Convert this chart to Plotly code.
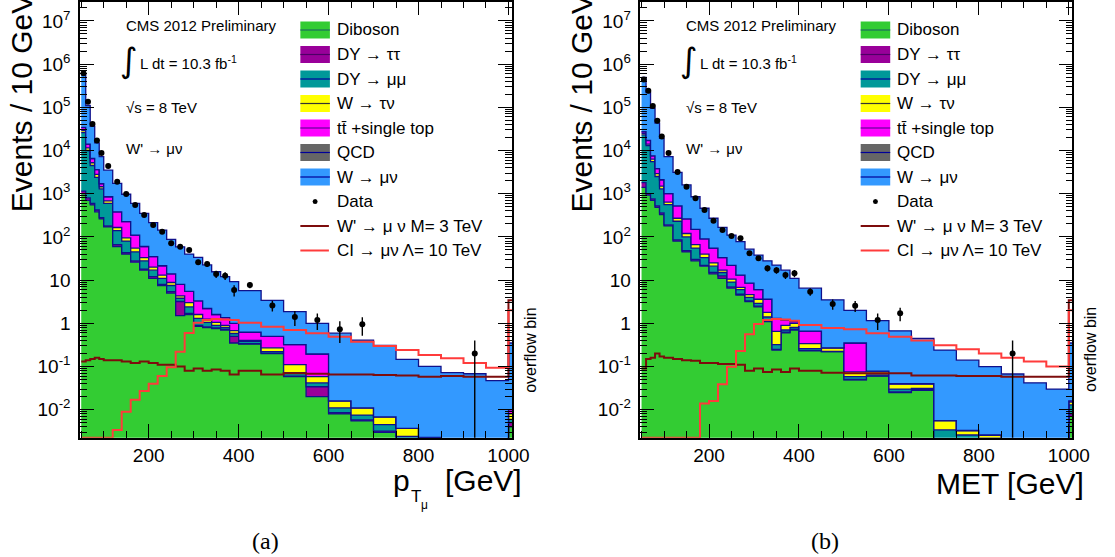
import numpy as np
import plotly.graph_objects as go

W, H = 1115, 557

# Bin edges in GeV (the last, narrow bin is the overflow bin)
edges = [50, 60, 70, 80, 90, 100, 120, 140, 160, 180, 200, 220, 240, 260, 280,
         300, 320, 340, 360, 380, 400, 450, 500, 550, 600, 650, 700, 750, 800,
         850, 900, 950, 1000, 1008]

# ---------------- muon pT distribution (events / 10 GeV) ----------------
pt_diboson = [1000, 700, 550, 380, 260, 170, 60, 40, 26, 17, 11, 7.5, 5.0, 1.5, 1.6, 0.85, 0.8,
              0.75, 0.7, 0.35, 0.33, 0.2, 0.058, 0.02, 0.008, 0.0055, 0.003, 0.0016, 0.0012,
              0, 0, 0, 0.004]
pt_dytautau = [150, 100, 50, 40, 20, 10, 6, 3, 2, 1, 1, 0.5, 0.4, 1.7, 0.1, 0.05, 0.03, 0.03,
               0.02, 0.15, 0.01, 0.005, 0.002, 0.014, 0.0005, 0.0003, 0.0002, 0.0001, 0.0001,
               0, 0, 0, 0.001]
pt_dymumu = [24850, 9200, 3900, 1980, 1020, 420, 74, 37, 17, 10, 5, 3, 2.1, 0.6, 0.7, 0.4, 0.22,
             0.12, 0.08, 0.08, 0.04, 0.015, 0.012, 0.008, 0.0025, 0.0017, 0.0013, 0.0007,
             0.0005, 0, 0, 0, 0.001]
pt_wtaunu = [3000, 1500, 700, 400, 150, 80, 25, 15, 10, 5, 3, 2, 1.3, 0.5, 0.6, 0.3, 0.2, 0.15,
             0.1, 0.1, 0.02, 0.05, 0.038, 0.016, 0.005, 0.0035, 0.0023, 0.0013, 0.0005,
             0, 0, 0, 0.002]
pt_ttbar = [5000, 2500, 1300, 800, 250, 170, 215, 130, 55, 27, 15, 8.5, 5.2, 3.7, 2.5, 1.7, 0.95,
            0.55, 0.45, 0.32, 0.22, 0.23, 0.21, 0.137, 0, 0, 0, 0, 0, 0, 0, 0, 0.002]
pt_qcd = [400, 100, 30, 8, 2, 1, 0.3, 0, 0, 0, 0, 0, 0, 0, 0, 0, 0, 0, 0, 0, 0, 0, 0, 0, 0, 0,
          0, 0, 0, 0, 0, 0, 0]
pt_wmunu = [526000, 96000, 29500, 11400, 5500, 2650, 1360, 745, 490, 290, 178, 122.5, 74, 51,
            34.5, 30.4, 20.2, 14, 10.65, 8.2, 5.08, 2.9, 1.54, 0.805, 0.574, 0.399, 0.303,
            0.143, 0.098, 0.072, 0.068, 0.047, 0.34]
pt_data = [610000, 135000, 41000, 17000, 8700, 4400, 1900, 980, 550, 320, 188, 132, 71, 59, 50,
           26, 23.6, 13.8, 12.6, 5.9, 7.7, 2.6, 1.4, 1.19, 0.73, 0.95, 0, 0, 0, 0, 0.2, 0, 0]
pt_wprime = [0.13, 0.14, 0.15, 0.16, 0.15, 0.14, 0.14, 0.13, 0.12, 0.13, 0.12, 0.11, 0.11, 0.1,
             0.08, 0.09, 0.08, 0.085, 0.08, 0.065, 0.08, 0.065, 0.07, 0.068, 0.065, 0.065,
             0.064, 0.062, 0.058, 0.06, 0.058, 0.058, 3.4]
pt_ci = [0, 0, 0, 0, 0, 0, 0.0034, 0.009, 0.017, 0.027, 0.04, 0.06, 0.096, 0.22, 0.6, 1.03, 1.2,
         1.25, 1.22, 1.2, 1.03, 0.83, 0.7, 0.59, 0.49, 0.375, 0.3, 0.24, 0.185, 0.155, 0.12,
         0.094, 2.0]

# ---------------- MET distribution (events / 10 GeV) ----------------
met_diboson = [1400, 930, 700, 480, 330, 180, 80, 45, 28, 21, 14, 11, 6.5, 4.5, 3.2, 2.4, 1.1,
               0.24, 0.6, 0.7, 0.23, 0.22, 0.049, 0.06, 0.025, 0.028, 0, 0, 0, 0, 0, 0, 0.007]
met_dytautau = [400, 70, 60, 40, 30, 10, 5, 3, 2, 1, 1, 1.5, 0.5, 0.2, 0.1, 0.1, 0.05, 0.01,
                0.02, 0.02, 0.005, 0.002, 0.001, 0.001, 0.001, 0.001, 0, 0, 0, 0, 0, 0, 0.001]
met_dymumu = [21200, 12000, 4740, 1980, 940, 370, 145, 52, 25, 11, 6, 2.5, 2, 1.3, 0.7, 0.4,
              0.25, 0.07, 0.08, 0.08, 0.025, 0.003, 0.008, 0.003, 0.004, 0.002, 0.0034,
              0.0026, 0.0022, 0, 0, 0, 0.005]
met_wtaunu = [2000, 1000, 800, 400, 200, 80, 40, 20, 11, 7, 4, 2, 1.5, 0.8, 0.6, 0.7, 0.4, 0.33,
              0.2, 0.2, 0.08, 0.045, 0.017, 0.012, 0.009, 0.008, 0.0022, 0.0007, 0.0004,
              0, 0, 0, 0.002]
met_ttbar = [2000, 3000, 1200, 900, 600, 360, 250, 140, 84, 50, 30, 16, 11.5, 6.2, 3.9, 2.4,
             1.8, 0.65, 0.3, 0.1, 0.32, 0, 0.275, 0.002, 0.001, 0.001, 0, 0, 0, 0, 0, 0, 0.001]
met_qcd = [300, 80, 25, 6, 2, 1, 0.3, 0, 0, 0, 0, 0, 0, 0, 0, 0, 0, 0, 0, 0, 0, 0, 0, 0, 0, 0,
           0, 0, 0, 0, 0, 0, 0]
met_wmunu = [463000, 203000, 87500, 39200, 16900, 6200, 2580, 1340, 700, 370, 215, 133, 88, 65,
             43.5, 32, 24.4, 21, 15.8, 9.9, 5.84, 3.23, 1.65, 1.07, 0.63, 0.41, 0.234, 0.137,
             0.097, 0.067, 0.042, 0.03, 0.334]
met_data = [440000, 240000, 107000, 49000, 21000, 8700, 3200, 1450, 780, 420, 237, 144, 105, 93,
            42, 32, 18.8, 17, 13.1, 14.4, 5.4, 2.8, 2.55, 1.19, 1.7, 0, 0, 0, 0, 0.2, 0, 0, 0]
met_wprime = [0.09, 0.15, 0.16, 0.2, 0.17, 0.16, 0.15, 0.14, 0.135, 0.12, 0.12, 0.115, 0.115,
              0.11, 0.08, 0.09, 0.075, 0.085, 0.075, 0.09, 0.08, 0.072, 0.07, 0.07, 0.07,
              0.062, 0.062, 0.06, 0.06, 0.058, 0.058, 0.058, 3.4]
met_ci = [0, 0, 0, 0, 0, 0, 0, 0, 0, 0.014, 0.016, 0.039, 0.099, 0.23, 0.56, 0.96, 1.2, 1.25,
          1.22, 1.15, 0.91, 0.78, 0.73, 0.59, 0.49, 0.4, 0.31, 0.25, 0.2, 0.16, 0.13, 0.1, 2.0]

# Stack order (bottom to top), legend labels and ROOT-like colours
process_names = ["Diboson", "DY \u2192 \u03c4\u03c4", "DY \u2192 \u03bc\u03bc", "W \u2192 \u03c4\u03bd",
                 "tt\u0304 +single top", "QCD", "W \u2192 \u03bc\u03bd"]
process_fill = ["#33cc33", "#990099", "#009999", "#ffff00", "#ff00ff", "#666666", "#3399ff"]
process_line = ["#1d6b5e", "#4d0066", "#000099", "#333333", "#660099", "#000099", "#000099"]
outline = "#10108a"
wprime_color = "#7d0c0c"
ci_color = "#ff3b3b"

YMIN_LOG, YMAX_LOG = -2.648, 7.449
XMIN, XMAX = 47.4, 1008
FONT = "Liberation Sans, Arial, sans-serif"

fig = go.Figure()

centers = [(edges[i] + edges[i + 1]) / 2 for i in range(len(edges) - 1)]
widths = [edges[i + 1] - edges[i] for i in range(len(edges) - 1)]


def step_y(vals):
    v = list(vals)
    return v + [v[-1]]


def add_panel(xa, ya, stacks, wprime, ci, data):
    nb = len(edges) - 1
    fig.add_trace(go.Scatter(x=edges, y=[1e-5] * len(edges), mode="lines", line_shape="hv",
                             line=dict(width=0), xaxis=xa, yaxis=ya, showlegend=False,
                             hoverinfo="skip"))
    cum = np.zeros(nb)
    for vals, fillc in zip(stacks, process_fill):
        cum = cum + np.asarray(vals, dtype=float)
        y = np.maximum(cum, 1e-5)
        fig.add_trace(go.Scatter(x=edges, y=step_y(y), mode="lines", line_shape="hv",
                                 line=dict(color=outline, width=1.3), fill="tonexty",
                                 fillcolor=fillc, xaxis=xa, yaxis=ya, showlegend=False,
                                 hoverinfo="skip"))
    floor = 10 ** YMIN_LOG
    for vals, col in ((wprime, wprime_color), (ci, ci_color)):
        y = [v if v > 0 else floor for v in vals]
        fig.add_trace(go.Scatter(x=edges, y=step_y(y), mode="lines", line_shape="hv",
                                 line=dict(color=col, width=2), xaxis=xa, yaxis=ya,
                                 showlegend=False, hoverinfo="skip"))
    xs, ys, up, dn = [], [], [], []
    for c, w, v in zip(centers, widths, data):
        if v <= 0:
            continue
        err = np.sqrt(v / (w / 10.0))
        xs.append(c)
        ys.append(v)
        up.append(err)
        dn.append(min(err, v - 1e-4))
    fig.add_trace(go.Scatter(x=xs, y=ys, mode="markers", xaxis=xa, yaxis=ya,
                             marker=dict(color="black", size=6),
                             error_y=dict(type="data", array=up, arrayminus=dn, symmetric=False,
                                          color="black", thickness=1.4, width=0),
                             showlegend=False, hoverinfo="skip"))


add_panel("x", "y",
          [pt_diboson, pt_dytautau, pt_dymumu, pt_wtaunu, pt_ttbar, pt_qcd, pt_wmunu],
          pt_wprime, pt_ci, pt_data)
add_panel("x2", "y2",
          [met_diboson, met_dytautau, met_dymumu, met_wtaunu, met_ttbar, met_qcd, met_wmunu],
          met_wprime, met_ci, met_data)

# ---------------- axes ----------------
ytick_vals = [10.0 ** e for e in range(-2, 8)]
ytick_text = ["10<sup>-2</sup>", "10<sup>-1</sup>", "1", "10"] + \
             ["10<sup>%d</sup>" % e for e in range(2, 8)]
yminor = [m * 10.0 ** e for e in range(-3, 8) for m in range(2, 10)]

common = dict(showline=True, linecolor="black", linewidth=1.5, mirror="ticks", ticks="inside",
              tickcolor="black", tickwidth=1, ticklen=14, showgrid=False, zeroline=False,
              tickfont=dict(family=FONT, size=19, color="black"))
xcommon = dict(common, range=[XMIN, XMAX], tickmode="linear", tick0=0, dtick=200,
               minor=dict(tickmode="linear", tick0=0, dtick=50, ticklen=7, ticks="inside",
                          tickcolor="black", tickwidth=1, showgrid=False))
ycommon = dict(common, type="log", range=[YMIN_LOG, YMAX_LOG], tickmode="array",
               tickvals=ytick_vals, ticktext=ytick_text, ticklabelstandoff=4,
               minor=dict(tickmode="array", tickvals=yminor, ticklen=7, ticks="inside",
                          tickcolor="black", tickwidth=1, showgrid=False))


def px(x):
    return x / W


def py(y):
    return 1 - y / H


ydom = [py(437.7), py(1.5)]
fig.update_layout(
    width=W, height=H, margin=dict(l=0, r=0, t=0, b=0),
    paper_bgcolor="white", plot_bgcolor="white", showlegend=False,
    xaxis=dict(xcommon, domain=[px(81.3), px(520)], anchor="y"),
    yaxis=dict(ycommon, domain=ydom, anchor="x"),
    xaxis2=dict(xcommon, domain=[px(650.3), px(1089)], anchor="y2"),
    yaxis2=dict(ycommon, domain=ydom, anchor="x2"),
)

# ---------------- text and hand-made legends ----------------
annotations = []
shapes = []


def text(x, y, s, size, xanchor="left", yanchor="middle", angle=0, family=FONT):
    annotations.append(dict(x=px(x), y=py(y), xref="paper", yref="paper", text=s,
                            showarrow=False, xanchor=xanchor, yanchor=yanchor,
                            textangle=angle, font=dict(family=family, size=size,
                                                       color="black")))


legend_labels = process_names + ["Data", "W' \u2192 \u03bc \u03bd M= 3 TeV",
                                 "CI \u2192 \u03bc\u03bd \u039b= 10 TeV"]

for dx in (0, 569):
    text(126 + dx, 25.5, "CMS 2012 Preliminary", 15)
    text(120 + dx, 60, "\u222b", 34, family="DejaVu Sans")
    text(140 + dx, 62.5, "L dt = 10.3 fb<sup>-1</sup>", 15)
    text(126 + dx, 107, "\u221as = 8 TeV", 15)
    text(126 + dx, 148.5, "W' \u2192 \u03bc\u03bd", 15)
    text(21.5 + dx, 214, "Events / 10 GeV", 30, xanchor="center", yanchor="bottom", angle=-90)
    text(538 + dx, 350, "overflow bin", 16, xanchor="center", angle=-90)

    for i, lab in enumerate(legend_labels):
        yc = 30 + 24.5 * i
        if i < 7:
            shapes.append(dict(type="rect", xref="paper", yref="paper",
                               x0=px(305 + dx), x1=px(335 + dx), y0=py(yc + 8.5), y1=py(yc - 8.5),
                               fillcolor=process_fill[i], line=dict(width=0)))
            shapes.append(dict(type="line", xref="paper", yref="paper",
                               x0=px(305 + dx), x1=px(335 + dx), y0=py(yc), y1=py(yc),
                               line=dict(color=process_line[i], width=1.2)))
        elif i == 7:
            shapes.append(dict(type="circle", xref="paper", yref="paper",
                               x0=px(317.5 + dx), x1=px(322.5 + dx), y0=py(yc + 2.5),
                               y1=py(yc - 2.5), fillcolor="black", line=dict(width=0)))
        else:
            col = wprime_color if i == 8 else ci_color
            shapes.append(dict(type="line", xref="paper", yref="paper",
                               x0=px(305 + dx), x1=px(334 + dx), y0=py(yc), y1=py(yc),
                               line=dict(color=col, width=2)))
        text(340 + dx, yc, lab, 17)

# x-axis titles
text(408, 480, "p", 30, xanchor="center")
text(422, 496, "T", 17, xanchor="center")
text(431, 505, "\u03bc", 12, xanchor="center")
text(491, 480, "[GeV]", 30, xanchor="center")
text(1026, 483, "MET [GeV]", 30, xanchor="center")

# sub-figure captions
text(270, 541, "(a)", 24, xanchor="center", family="Liberation Serif, serif")
text(838, 541, "(b)", 24, xanchor="center", family="Liberation Serif, serif")

fig.update_layout(annotations=annotations, shapes=shapes)
fig.write_html("out.html")
